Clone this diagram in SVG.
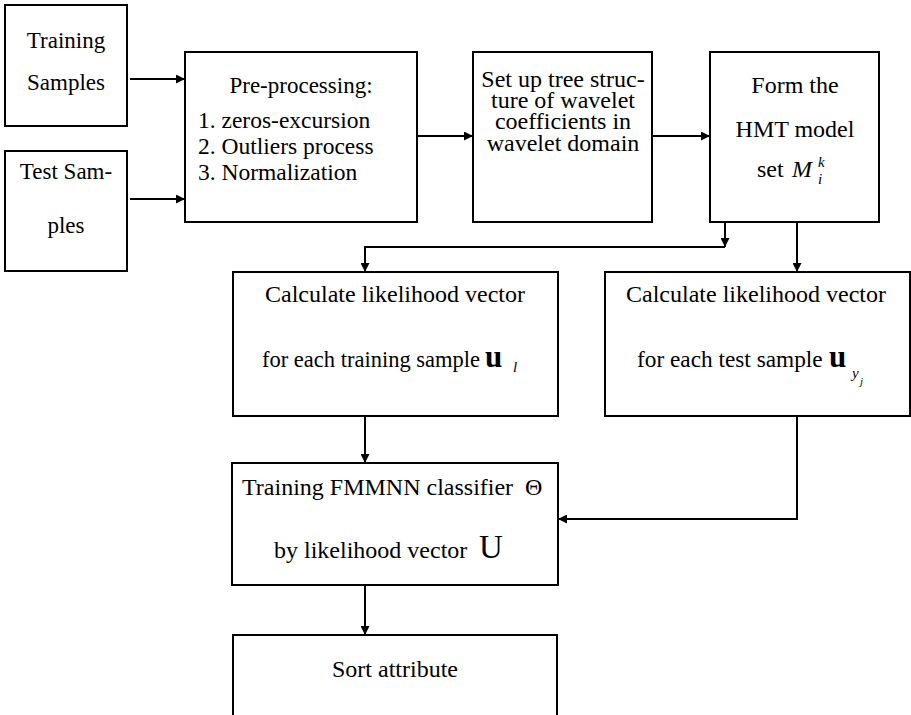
<svg xmlns="http://www.w3.org/2000/svg" width="911" height="715" viewBox="0 0 911 715">
  <style>
    .box { fill: #fff; stroke: #000; stroke-width: 2; }
    .t { font-family: 'Liberation Serif', 'DejaVu Serif', serif; font-size: 24px; fill: #000; }
    .s23 { font-size: 23px; }
    .s235 { font-size: 23.5px; }
    .c { text-anchor: middle; }
    .it { font-style: italic; }
    .sub { font-size: 15px; }
    .subsub { font-size: 11px; }
    .vec { font-size: 31px; font-weight: bold; }
    .wire { fill: none; stroke: #000; stroke-width: 2; }
  </style>
  <defs>
    <marker id="arrow" viewBox="0 0 10 10" refX="10" refY="5" markerWidth="10" markerHeight="9" markerUnits="userSpaceOnUse" orient="auto">
      <path d="M0,0 L10,5 L0,10 Z" fill="#000"/>
    </marker>
  </defs>

  <g id="training-samples">
    <rect class="box" x="5" y="5" width="122" height="121"/>
    <text class="t s23 c" x="66" y="48">Training</text>
    <text class="t s23 c" x="66" y="90">Samples</text>
  </g>

  <g id="test-samples">
    <rect class="box" x="5" y="151" width="122" height="120"/>
    <text class="t s23 c" x="66" y="179">Test Sam-</text>
    <text class="t s23 c" x="66" y="233">ples</text>
  </g>

  <g id="preprocessing">
    <rect class="box" x="185" y="52" width="232" height="170"/>
    <text class="t s23 c" x="301" y="93">Pre-processing:</text>
    <text class="t s235" x="198" y="128">1. zeros-excursion</text>
    <text class="t s235" x="198" y="154">2. Outliers process</text>
    <text class="t s235" x="198" y="180">3. Normalization</text>
  </g>

  <g id="tree-structure">
    <rect class="box" x="473" y="52" width="179" height="170"/>
    <text class="t c" x="563" y="87">Set up tree struc-</text>
    <text class="t c" x="563" y="108">ture of wavelet</text>
    <text class="t c" x="563" y="129">coefficients in</text>
    <text class="t c" x="563" y="151">wavelet domain</text>
  </g>

  <g id="hmt-model">
    <rect class="box" x="710" y="52" width="169" height="170"/>
    <text class="t c" x="795" y="93">Form the</text>
    <text class="t c" x="795" y="137">HMT model</text>
    <text class="t" x="757" y="177">set</text>
    <text class="t it" x="792" y="177">M</text>
    <text class="t it sub" x="818" y="167">k</text>
    <text class="t it sub" x="818" y="184">i</text>
  </g>

  <g id="likelihood-training">
    <rect class="box" x="233" y="272" width="325" height="144"/>
    <text class="t c" x="395" y="302">Calculate likelihood vector</text>
    <text class="t" x="262" y="367" style="font-size:22.5px">for each training sample</text>
    <text class="t vec" x="485" y="367">u</text>
    <text class="t it sub" x="513" y="372">l</text>
  </g>

  <g id="likelihood-test">
    <rect class="box" x="605" y="272" width="305" height="144"/>
    <text class="t c" x="756" y="302">Calculate likelihood vector</text>
    <text class="t" x="637" y="367" style="font-size:23.3px">for each test sample</text>
    <text class="t vec" x="829" y="367">u</text>
    <text class="t it sub" x="852" y="378">y</text>
    <text class="t it subsub" x="860" y="385">j</text>
  </g>

  <g id="fmmnn-training">
    <rect class="box" x="232" y="463" width="326" height="122"/>
    <text class="t" x="242" y="495">Training FMMNN classifier</text>
    <text class="t" x="525" y="495">Θ</text>
    <text class="t" x="274" y="558">by likelihood vector</text>
    <text class="t" x="479" y="558" style="font-size:33px">U</text>
  </g>

  <g id="sort-attribute">
    <path class="wire" d="M233,716 V635 H557 V716"/>
    <text class="t c" x="395" y="677">Sort attribute</text>
  </g>

  <g id="connectors">
    <line class="wire" x1="130" y1="79" x2="185" y2="79" marker-end="url(#arrow)"/>
    <line class="wire" x1="130" y1="199" x2="185" y2="199" marker-end="url(#arrow)"/>
    <line class="wire" x1="417" y1="136" x2="473" y2="136" marker-end="url(#arrow)"/>
    <line class="wire" x1="652" y1="136" x2="710" y2="136" marker-end="url(#arrow)"/>
    <line class="wire" x1="725" y1="222" x2="725" y2="247" marker-end="url(#arrow)"/>
    <polyline class="wire" points="725,247 365,247 365,272" marker-end="url(#arrow)"/>
    <line class="wire" x1="797" y1="222" x2="797" y2="272" marker-end="url(#arrow)"/>
    <line class="wire" x1="365" y1="416" x2="365" y2="463" marker-end="url(#arrow)"/>
    <polyline class="wire" points="797,416 797,519 558,519" marker-end="url(#arrow)"/>
    <line class="wire" x1="365" y1="585" x2="365" y2="635" marker-end="url(#arrow)"/>
  </g>
</svg>
